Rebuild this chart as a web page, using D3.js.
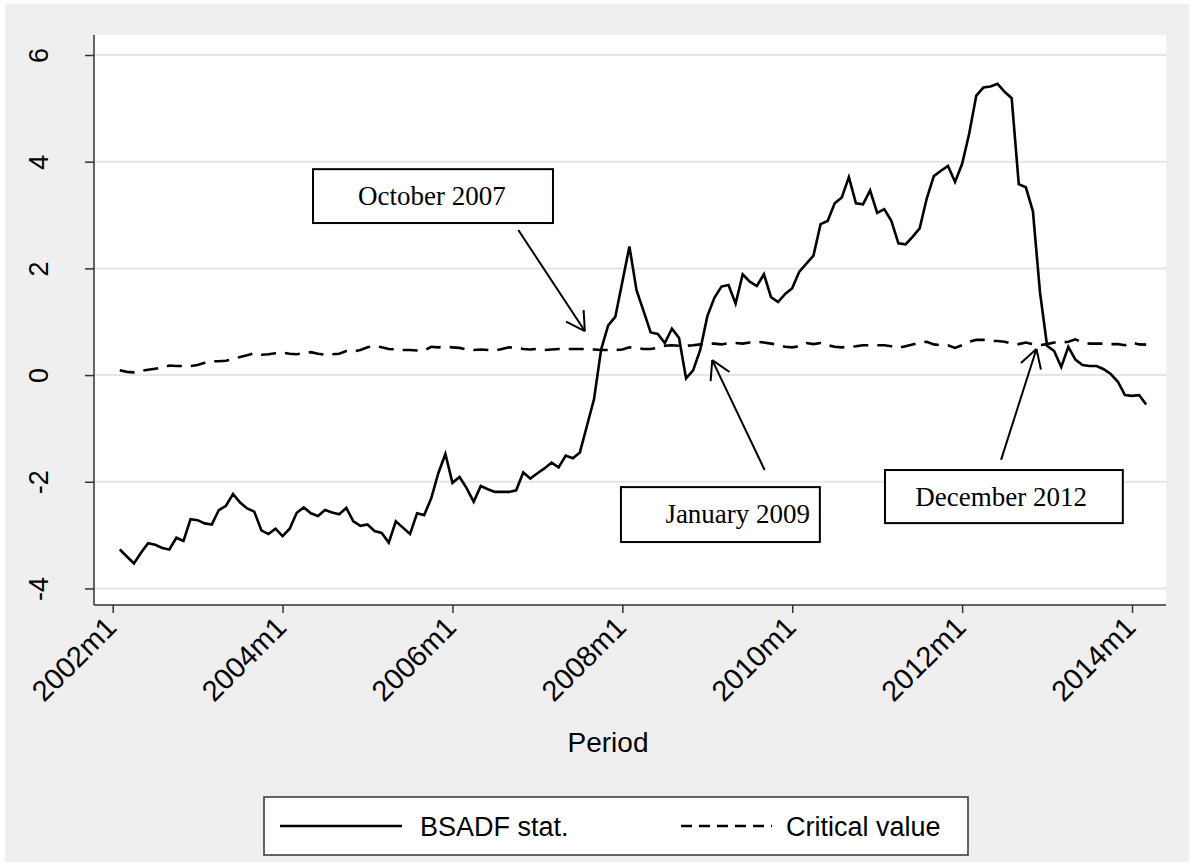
<!DOCTYPE html>
<html><head><meta charset="utf-8">
<script src="https://cdn.jsdelivr.net/npm/d3@7"></script>
<style>
body{margin:0;background:#fff}
svg text{font-family:"Liberation Sans",Arial,Helvetica,sans-serif;fill:#000}
</style>
</head><body>
<svg id="chart" width="1195" height="866"></svg>
<script>
// Stata %tm month numbers: 2002m1 = 504
const firstMonth = 505; // 2002m2
const bsadf = [
-3.27,-3.40,-3.53,-3.33,-3.15,-3.18,-3.24,-3.27,-3.05,-3.11,
-2.70,-2.72,-2.78,-2.80,-2.53,-2.45,-2.23,-2.39,-2.50,-2.56,
-2.91,-2.98,-2.88,-3.02,-2.88,-2.58,-2.48,-2.59,-2.64,-2.53,
-2.575,-2.61,-2.49,-2.74,-2.825,-2.80,-2.925,-2.96,-3.14,-2.74,
-2.86,-2.98,-2.59,-2.625,-2.31,-1.84,-1.48,-2.02,-1.91,-2.12,
-2.375,-2.08,-2.14,-2.19,-2.19,-2.19,-2.16,-1.825,-1.94,-1.84,
-1.75,-1.64,-1.73,-1.51,-1.56,-1.45,-0.95,-0.45,0.48,0.93,
1.09,1.75,2.41,1.59,1.20,0.80,0.77,0.60,0.87,0.70,
-0.06,0.09,0.47,1.10,1.45,1.66,1.69,1.34,1.89,1.75,
1.67,1.89,1.46,1.37,1.52,1.63,1.94,2.09,2.24,2.83,
2.89,3.22,3.33,3.71,3.22,3.20,3.46,3.04,3.11,2.89,
2.47,2.45,2.59,2.75,3.31,3.73,3.83,3.92,3.62,3.96,
4.53,5.24,5.39,5.41,5.46,5.31,5.19,3.58,3.52,3.07,
1.55,0.55,0.45,0.15,0.53,0.29,0.19,0.17,0.17,0.11,
0.02,-0.125,-0.375,-0.39,-0.375,-0.55
];
const criticalValue = [
0.09,0.06,0.05,0.08,0.10,0.12,0.14,0.18,0.17,0.17,
0.17,0.19,0.23,0.26,0.26,0.27,0.30,0.34,0.37,0.41,
0.38,0.39,0.41,0.42,0.40,0.39,0.41,0.43,0.40,0.38,
0.39,0.40,0.45,0.44,0.47,0.52,0.55,0.52,0.49,0.48,
0.47,0.47,0.46,0.46,0.53,0.52,0.53,0.52,0.51,0.48,
0.47,0.48,0.47,0.46,0.49,0.52,0.51,0.49,0.48,0.49,
0.47,0.48,0.49,0.49,0.49,0.49,0.49,0.48,0.47,0.47,
0.47,0.48,0.52,0.51,0.49,0.49,0.51,0.55,0.56,0.55,
0.55,0.56,0.575,0.59,0.59,0.575,0.60,0.60,0.59,0.61,
0.625,0.61,0.59,0.57,0.53,0.52,0.54,0.60,0.58,0.60,
0.56,0.53,0.52,0.53,0.54,0.56,0.56,0.56,0.56,0.54,
0.51,0.54,0.575,0.61,0.625,0.575,0.56,0.56,0.51,0.56,
0.625,0.66,0.66,0.64,0.64,0.625,0.59,0.58,0.61,0.58,
0.56,0.58,0.61,0.61,0.625,0.67,0.61,0.59,0.59,0.59,
0.58,0.58,0.56,0.61,0.575,0.57
];
const yTickValues = [-4,-2,0,2,4,6];
const xTickMonths = [504,528,552,576,600,624,648];
const xTickLabels = ["2002m1","2004m1","2006m1","2008m1","2010m1","2012m1","2014m1"];
const seriesNames = ["BSADF stat.","Critical value"];
const xTitle = "Period";
// annotations in data units: box [m0,m1,vTop,vBottom], text centre, arrow tail/tip [month,value]
const annotations = [
  {label:"October 2007", box:[532.3,566.2,3.86,2.85], text:[549.1,3.36], tail:[561.3,2.72], tip:[570.7,0.825]},
  {label:"January 2009", box:[575.8,603.9,-2.10,-3.13], text:[592.3,-2.60], tail:[596.1,-1.78], tip:[588.7,0.28]},
  {label:"December 2012", box:[613.1,646.7,-1.78,-2.775], text:[629.5,-2.28], tail:[629.5,-1.59], tip:[634.5,0.49]}
];

const svg = d3.select("#chart");
const W = 1195, H = 866;
const plot = {left:94, right:1166, top:35, bottom:605};

// outer region
svg.append("rect").attr("x",5).attr("y",4).attr("width",W-11).attr("height",H-8).attr("fill","#efefef");
svg.append("rect").attr("x",plot.left).attr("y",plot.top).attr("width",plot.right-plot.left).attr("height",plot.bottom-plot.top).attr("fill","#fff");

const x = d3.scaleLinear().domain([501.36, 652.8]).range([plot.left, plot.right]);
const y = d3.scaleLinear().domain([-4.31, 6.375]).range([plot.bottom, plot.top]);

// gridlines
svg.append("g").selectAll("line").data(yTickValues).join("line")
  .attr("x1",plot.left).attr("x2",plot.right)
  .attr("y1",d=>y(d)).attr("y2",d=>y(d))
  .attr("stroke","#e6e6e6").attr("stroke-width",2);

// axes
const yAxis = svg.append("g").attr("transform",`translate(${plot.left},0)`)
  .call(d3.axisLeft(y).tickValues(yTickValues).tickSize(9).tickFormat(d=>String(d)));
yAxis.select(".domain").attr("stroke","#333").attr("stroke-width",1.5).attr("d",`M0,${plot.top}V${plot.bottom}`);
yAxis.selectAll(".tick line").attr("stroke","#333").attr("stroke-width",1.5);
yAxis.selectAll(".tick text").attr("font-size",27)
  .attr("x",0).attr("dy",0)
  .attr("text-anchor","middle")
  .attr("transform","translate(-46,0) rotate(-90)");

const xAxis = svg.append("g").attr("transform",`translate(0,${plot.bottom})`)
  .call(d3.axisBottom(x).tickValues(xTickMonths).tickSize(8).tickFormat((d,i)=>xTickLabels[i]));
xAxis.select(".domain").attr("stroke","#333").attr("stroke-width",1.5).attr("d",`M${plot.left},0H${plot.right}`);
xAxis.selectAll(".tick line").attr("stroke","#333").attr("stroke-width",1.5);
xAxis.selectAll(".tick text").attr("font-size",29)
  .attr("y",0).attr("dy",0)
  .attr("text-anchor","end")
  .attr("transform","translate(5,24) rotate(-45)");

svg.append("text").attr("x",608).attr("y",752)
  .attr("text-anchor","middle").attr("font-size",28).text(xTitle);

// series
const line = d3.line().x((d,i)=>x(firstMonth+i)).y(d=>y(d));
svg.append("path").datum(criticalValue).attr("d",line)
  .attr("fill","none").attr("stroke","#000").attr("stroke-width",2.6)
  .attr("stroke-dasharray","15 9");
svg.append("path").datum(bsadf).attr("d",line)
  .attr("fill","none").attr("stroke","#000").attr("stroke-width",2.6)
  .attr("stroke-linejoin","miter");

// annotations
const ag = svg.append("g");
annotations.forEach(a=>{
  const x0=x(a.box[0]), x1=x(a.box[1]), y0=y(a.box[2]), y1=y(a.box[3]);
  ag.append("rect").attr("x",x0).attr("y",y0).attr("width",x1-x0).attr("height",y1-y0)
    .attr("fill","#fff").attr("stroke","#000").attr("stroke-width",2);
  ag.append("text").attr("x",x(a.text[0])).attr("y",y(a.text[1])).attr("dy","0.35em")
    .attr("text-anchor","middle").attr("font-size",27)
    .style("font-family","'Liberation Serif','Times New Roman',serif").text(a.label);
  const tx=x(a.tail[0]), ty=y(a.tail[1]), px=x(a.tip[0]), py=y(a.tip[1]);
  ag.append("line").attr("x1",tx).attr("y1",ty).attr("x2",px).attr("y2",py)
    .attr("stroke","#000").attr("stroke-width",2);
  const ang = Math.atan2(ty-py, tx-px), L=21, s=Math.PI/6;
  [ang-s, ang+s].forEach(t=>{
    ag.append("line").attr("x1",px).attr("y1",py)
      .attr("x2",px+L*Math.cos(t)).attr("y2",py+L*Math.sin(t))
      .attr("stroke","#000").attr("stroke-width",2);
  });
});

// legend
const lg = svg.append("g");
lg.append("rect").attr("x",264).attr("y",797).attr("width",704).attr("height",58)
  .attr("fill","#fff").attr("stroke","#333").attr("stroke-width",1.5);
lg.append("line").attr("x1",280).attr("x2",402).attr("y1",826).attr("y2",826)
  .attr("stroke","#000").attr("stroke-width",2.6);
lg.append("text").attr("x",420).attr("y",836).attr("font-size",27).text(seriesNames[0]);
lg.append("line").attr("x1",681).attr("x2",772).attr("y1",826).attr("y2",826)
  .attr("stroke","#000").attr("stroke-width",2.6).attr("stroke-dasharray","11 7");
lg.append("text").attr("x",786).attr("y",836).attr("font-size",27).text(seriesNames[1]);
</script>
</body></html>
